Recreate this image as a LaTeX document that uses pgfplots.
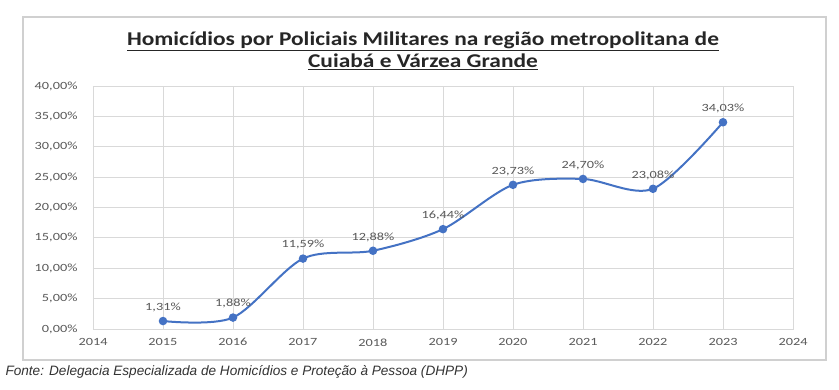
\documentclass[border=0pt]{standalone}
\usepackage{pgfplots}
\pgfplotsset{compat=1.18}
\usepackage{fontspec}
\setmainfont{Carlito}
\newfontfamily\widefont[FakeStretch=1.3]{Carlito}
\newfontfamily\titlefont[FakeStretch=1.2]{Carlito}
\newfontfamily\arialfont{Liberation Sans}
\definecolor{linec}{HTML}{4472C4}
\definecolor{gridc}{HTML}{D9D9D9}
\definecolor{framec}{HTML}{D0D0D0}
\definecolor{txt}{HTML}{595959}
\begin{document}
\begin{tikzpicture}[x=1pt,y=1pt]
\path[use as bounding box, fill=white] (0,0) rectangle (839,390);
\draw[framec, line width=1.5pt] (23,30) rectangle (826,373);
\node[font=\titlefont\fontsize{19.5}{23}\selectfont\bfseries, text=black!85] at (423,349) {\underline{Homicídios por Policiais Militares na região metropolitana de}};
\node[font=\titlefont\fontsize{19.5}{23}\selectfont\bfseries, text=black!85] at (423,328) {\underline{Cuiabá e Várzea Grande}};
\node[font=\arialfont\itshape\fontsize{13.6}{15}\selectfont, text=black!80, anchor=west] at (2,18) {Fonte: Delegacia Especializada de Homicídios e Proteção à Pessoa (DHPP)};
\begin{axis}[
  at={(93pt,61pt)}, anchor=south west,
  scale only axis, width=700pt, height=243pt,
  xmin=2014, xmax=2024, ymin=0, ymax=40,
  xtick={2014,2015,...,2024}, ytick={0,5,...,40},
  grid=major, grid style={gridc, line width=0.8pt},
  axis line style={gridc, line width=0.8pt},
  tick style={draw=none},
  tick label style={font=\widefont\fontsize{11}{13}\selectfont, text=txt},
  xticklabel style={/pgf/number format/.cd, 1000 sep={}, assume math mode=true},
  xticklabel shift=6pt,
  yticklabel shift=12pt,
  yticklabel={\pgfmathprintnumber[fixed,fixed zerofill,precision=2,use comma,assume math mode=true]{\tick}\%},
  nodes near coords={\pgfmathprintnumber[fixed,fixed zerofill,precision=2,use comma,assume math mode=true]{\pgfplotspointmeta}\%},
  every node near coord/.append style={font=\widefont\fontsize{11}{13}\selectfont, text=txt, yshift=5pt},
]
\addplot[linec, line width=2pt, smooth, tension=0.5, mark=*, mark size=3.2pt, mark options={fill=linec, draw=linec}] coordinates {
(2015,1.31) (2016,1.88) (2017,11.59) (2018,12.88) (2019,16.44) (2020,23.73) (2021,24.70) (2022,23.08) (2023,34.03)
};
\end{axis}
\end{tikzpicture}
\end{document}
